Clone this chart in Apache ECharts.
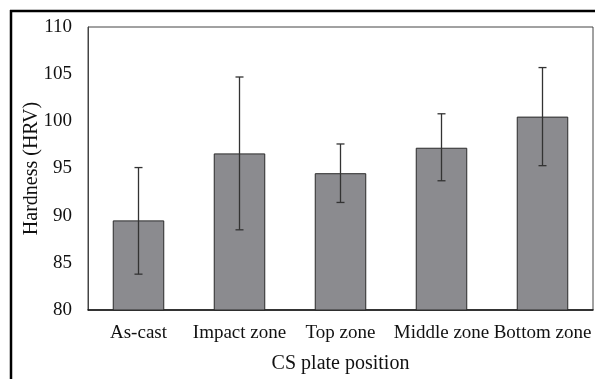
<!DOCTYPE html>
<html>
<head>
<meta charset="utf-8">
<script src="https://cdn.jsdelivr.net/npm/echarts@6/dist/echarts.min.js"></script>
<style>
  html, body { margin: 0; padding: 0; background: #fff; }
  #chart { width: 595px; height: 379px; }
</style>
</head>
<body>
<div id="chart"></div>
<script>
// positions along the CS plate
var categories = ['As-cast', 'Impact zone', 'Top zone', 'Middle zone', 'Bottom zone'];
// mean hardness (HRV)
var hardness = [89.5, 96.6, 94.5, 97.2, 100.5];
// error bar ends
var errLow = [83.8, 88.5, 91.4, 93.7, 95.3];
var errHigh = [95.1, 104.7, 97.6, 100.8, 105.7];

var font = '"Liberation Serif", "Times New Roman", serif';

var chart = echarts.init(document.getElementById('chart'));

var errData = categories.map(function (c, i) { return [i, errLow[i], errHigh[i]]; });

var option = {
    animation: false,
    grid: {
        left: 88, top: 27, right: 2, bottom: 68,
        show: true, borderColor: '#444', borderWidth: 1
    },
    graphic: [
        { type: 'line', shape: { x1: 10, y1: 11, x2: 595, y2: 11 }, style: { stroke: '#000', lineWidth: 2.5 } },
        { type: 'line', shape: { x1: 11, y1: 10, x2: 11, y2: 379 }, style: { stroke: '#000', lineWidth: 2.5 } }
    ],
    xAxis: {
        type: 'category',
        data: categories,
        name: 'CS plate position',
        nameLocation: 'middle',
        nameGap: 44,
        nameMoveOverlap: false,
        nameTextStyle: { fontFamily: font, fontSize: 20, color: '#111' },
        axisLine: { lineStyle: { color: '#111', width: 1.5 } },
        axisTick: { show: false },
        axisLabel: { fontFamily: font, fontSize: 19, color: '#111', margin: 14, interval: 0 }
    },
    yAxis: {
        type: 'value',
        min: 80, max: 110, interval: 5,
        name: 'Hardness (HRV)',
        nameLocation: 'middle',
        nameGap: 46,
        nameMoveOverlap: false,
        nameTextStyle: { fontFamily: font, fontSize: 20, color: '#111' },
        axisLine: { show: true, lineStyle: { color: '#444', width: 1 } },
        axisTick: { show: false },
        splitLine: { show: false },
        axisLabel: { fontFamily: font, fontSize: 19, color: '#111', margin: 16 }
    },
    series: [
        {
            type: 'bar',
            data: hardness,
            barWidth: '51%',
            itemStyle: { color: '#8b8b8f', borderColor: '#2a2a2a', borderWidth: 1 }
        },
        {
            type: 'custom',
            data: errData,
            z: 10,
            renderItem: function (params, api) {
                var lo = api.coord([api.value(0), api.value(1)]);
                var hi = api.coord([api.value(0), api.value(2)]);
                var cap = 4;
                var st = { stroke: '#333', lineWidth: 1.3 };
                return {
                    type: 'group',
                    children: [
                        { type: 'line', shape: { x1: hi[0], y1: hi[1], x2: lo[0], y2: lo[1] }, style: st },
                        { type: 'line', shape: { x1: hi[0] - cap, y1: hi[1], x2: hi[0] + cap, y2: hi[1] }, style: st },
                        { type: 'line', shape: { x1: lo[0] - cap, y1: lo[1], x2: lo[0] + cap, y2: lo[1] }, style: st }
                    ]
                };
            }
        }
    ]
};

chart.setOption(option);
</script>
</body>
</html>
